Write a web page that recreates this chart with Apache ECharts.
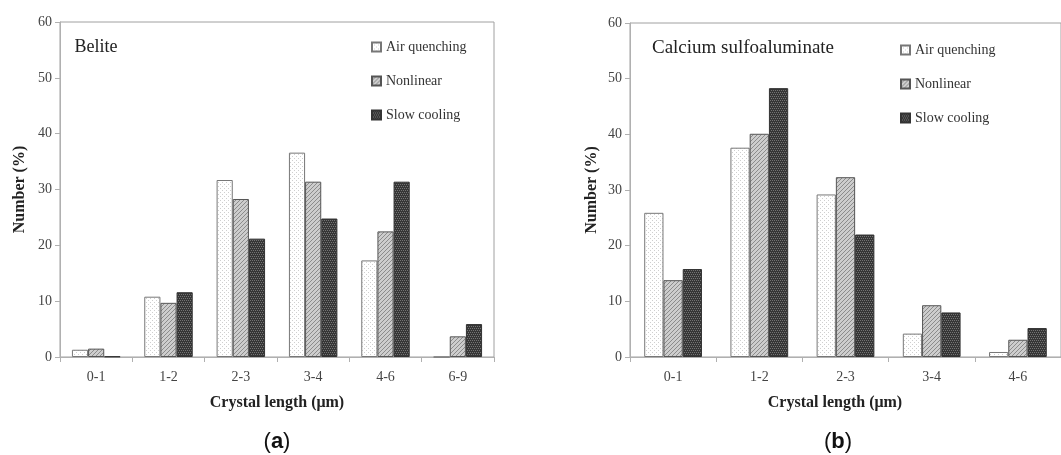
<!DOCTYPE html>
<html>
<head>
<meta charset="utf-8">
<script src="https://cdn.jsdelivr.net/npm/echarts@6/dist/echarts.min.js"></script>
<style>
  html, body { margin: 0; padding: 0; background: #fff; }
  #chart { width: 1061px; height: 455px; }
</style>
</head>
<body>
<div id="chart"></div>
<script>
// panel (a) Belite
const beliteCats = ["0-1", "1-2", "2-3", "3-4", "4-6", "6-9"];
const beliteAir = [1.3, 10.8, 31.7, 36.6, 17.3, 0];
const beliteNonlinear = [1.5, 9.7, 28.3, 31.4, 22.5, 3.7];
const beliteSlow = [0.1, 11.6, 21.2, 24.8, 31.4, 5.9];

// panel (b) Calcium sulfoaluminate
const csaCats = ["0-1", "1-2", "2-3", "3-4", "4-6"];
const csaAir = [25.9, 37.6, 29.2, 4.2, 0.9];
const csaNonlinear = [13.8, 40.1, 32.3, 9.3, 3.1];
const csaSlow = [15.8, 48.3, 22.0, 8.0, 5.2];

const yTicks = { min: 0, max: 60, interval: 10 };
const seriesNames = ["Air quenching", "Nonlinear", "Slow cooling"];

const SERIF = "'Liberation Serif', 'DejaVu Serif', serif";

function makePattern(bg, fg, draw) {
  const c = document.createElement("canvas");
  c.width = 4;
  c.height = 4;
  const ctx = c.getContext("2d");
  ctx.fillStyle = bg;
  ctx.fillRect(0, 0, 4, 4);
  ctx.fillStyle = fg;
  draw(ctx);
  return { image: c, repeat: "repeat" };
}

const dotted = makePattern("#ffffff", "#cfcfcf", (ctx) => {
  ctx.fillRect(0, 0, 1, 1);
  ctx.fillRect(2, 2, 1, 1);
});
const hatched = makePattern("#cdcdcd", "#8c8c8c", (ctx) => {
  for (let i = 0; i < 4; i++) ctx.fillRect(3 - i, i, 1, 1);
});
const checker = makePattern("#363636", "#747474", (ctx) => {
  ctx.fillRect(0, 0, 1, 1);
  ctx.fillRect(2, 0, 1, 1);
  ctx.fillRect(1, 2, 1, 1);
  ctx.fillRect(3, 2, 1, 1);
});

const styles = [
  { color: dotted, borderColor: "#777", borderWidth: 1 },
  { color: hatched, borderColor: "#555", borderWidth: 1 },
  { color: checker, borderColor: "#333", borderWidth: 1 },
];

function xAxisFor(gridIndex, cats) {
  return {
    type: "category",
    gridIndex,
    data: cats,
    axisLine: { lineStyle: { color: "#b0b0b0" } },
    axisTick: { show: true, length: 5, lineStyle: { color: "#b0b0b0" } },
    axisLabel: { color: "#444", fontFamily: SERIF, fontSize: 14, margin: 13 },
  };
}

function yAxisFor(gridIndex, gap) {
  return {
    type: "value",
    gridIndex,
    ...yTicks,
    name: "Number (%)",
    nameLocation: "middle",
    nameRotate: 90,
    nameGap: gap,
    nameTextStyle: { color: "#222", fontFamily: SERIF, fontSize: 16, fontWeight: "bold" },
    axisLine: { show: true, lineStyle: { color: "#b0b0b0" } },
    axisTick: { show: true, length: 5, lineStyle: { color: "#b0b0b0" } },
    axisLabel: { color: "#444", fontFamily: SERIF, fontSize: 14, margin: 8 },
    splitLine: { show: false },
  };
}

function barSeries(gridIndex, values) {
  return values.map((data, i) => ({
    name: seriesNames[i],
    type: "bar",
    xAxisIndex: gridIndex,
    yAxisIndex: gridIndex,
    data,
    barGap: "0%",
    barCategoryGap: "33%",
    itemStyle: styles[i],
    emphasis: { disabled: true },
  }));
}

function legendAt(left, top) {
  return {
    data: seriesNames,
    orient: "vertical",
    left,
    top,
    icon: "rect",
    itemWidth: 9,
    itemHeight: 9,
    itemGap: 20,
    textStyle: { color: "#333", fontFamily: SERIF, fontSize: 14 },
  };
}

function label(text, x, y, size, bold) {
  return {
    type: "text",
    x,
    y,
    style: {
      text,
      fill: "#222",
      font: `${bold ? "bold " : ""}${size}px ${SERIF}`,
      align: "center",
      verticalAlign: "middle",
    },
  };
}

function panelTag(letter, x) {
  return {
    type: "text",
    x,
    y: 442,
    style: {
      text: `({b|${letter}})`,
      fill: "#111",
      font: "22px 'Liberation Sans', sans-serif",
      align: "center",
      verticalAlign: "middle",
      rich: { b: { fontWeight: "bold", fontSize: 22, fontFamily: "'Liberation Sans', sans-serif" } },
    },
  };
}

const chart = echarts.init(document.getElementById("chart"), null, { renderer: "canvas" });

chart.setOption({
  animation: false,
  grid: [
    { left: 60, top: 22, width: 434, height: 335, show: true, borderColor: "#a0a0a0", borderWidth: 1 },
    { left: 630, top: 23, width: 433, height: 334, show: true, borderColor: "#a0a0a0", borderWidth: 1 },
  ],
  legend: [legendAt(366, 35), legendAt(895, 38)],
  xAxis: [xAxisFor(0, beliteCats), xAxisFor(1, csaCats)],
  yAxis: [yAxisFor(0, 32), yAxisFor(1, 30)],
  series: [
    ...barSeries(0, [beliteAir, beliteNonlinear, beliteSlow]),
    ...barSeries(1, [csaAir, csaNonlinear, csaSlow]),
  ],
  graphic: [
    label("Belite", 96, 47, 18, false),
    label("Calcium sulfoaluminate", 743, 48, 19, false),
    label("Crystal length (μm)", 277, 403, 16, true),
    label("Crystal length (μm)", 835, 403, 16, true),
    panelTag("a", 277),
    panelTag("b", 838),
  ],
});
</script>
</body>
</html>
